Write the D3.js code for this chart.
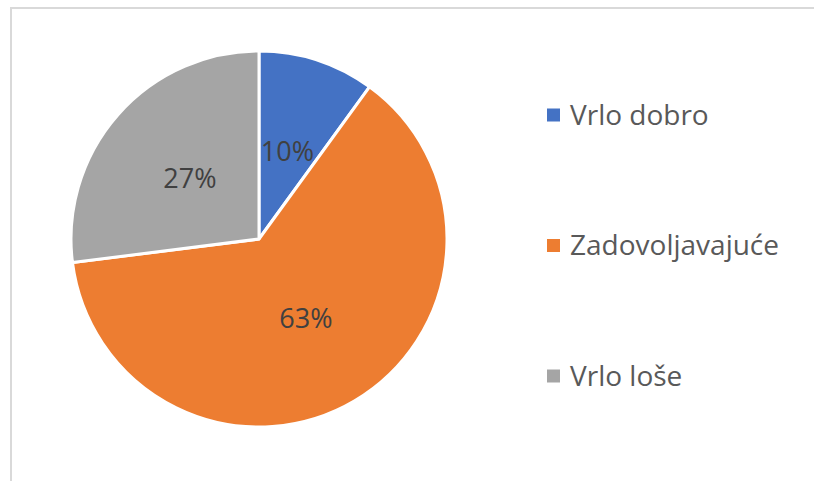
<!DOCTYPE html>
<html><head><meta charset="utf-8">
<script src="https://cdn.jsdelivr.net/npm/d3@7"></script>
<style>body{margin:0;background:#fff}svg{display:block}</style>
</head><body>
<svg id="c" width="814" height="481"></svg>
<script>
const categories = ["Vrlo dobro", "Zadovoljavajuće", "Vrlo loše"];
const values = [10, 63, 27];
const labels = ["10%", "63%", "27%"];
const colors = ["#4472C4", "#ED7D31", "#A5A5A5"];

const svg = d3.select("#c");
svg.append("rect").attr("x", 11).attr("y", 8).attr("width", 830).attr("height", 500)
  .attr("fill", "#fff").attr("stroke", "#d9d9d9").attr("stroke-width", 2);

const cx = 259, cy = 239, r = 188;
const pie = d3.pie().sort(null).value(d => d)(values);
const arc = d3.arc().innerRadius(0).outerRadius(r);
const labelArc = d3.arc().innerRadius(r * 0.49).outerRadius(r * 0.49);
const g = svg.append("g").attr("transform", `translate(${cx},${cy})`);
g.selectAll("path").data(pie).join("path")
  .attr("d", arc).attr("fill", (d, i) => colors[i])
  .attr("stroke", "#fff").attr("stroke-width", 3).attr("stroke-linejoin", "round");
g.selectAll("text").data(pie).join("text")
  .attr("transform", d => `translate(${labelArc.centroid(d)})`)
  .attr("text-anchor", "middle").attr("dy", "0.35em")
  .attr("font-family", "'Open Sans', sans-serif").attr("font-size", 27)
  .attr("fill", "#404040").text((d, i) => labels[i]);

const leg = svg.append("g");
const ly = d3.scalePoint().domain(categories).range([115, 376]);
categories.forEach((c, i) => {
  leg.append("rect").attr("x", 547).attr("y", ly(c) - 6.5).attr("width", 13).attr("height", 13).attr("fill", colors[i]);
  leg.append("text").attr("x", 570).attr("y", ly(c)).attr("dy", "0.35em")
    .attr("font-family", "'Open Sans', sans-serif").attr("font-size", 28)
    .attr("fill", "#595959").text(c);
});
</script>
</body></html>
